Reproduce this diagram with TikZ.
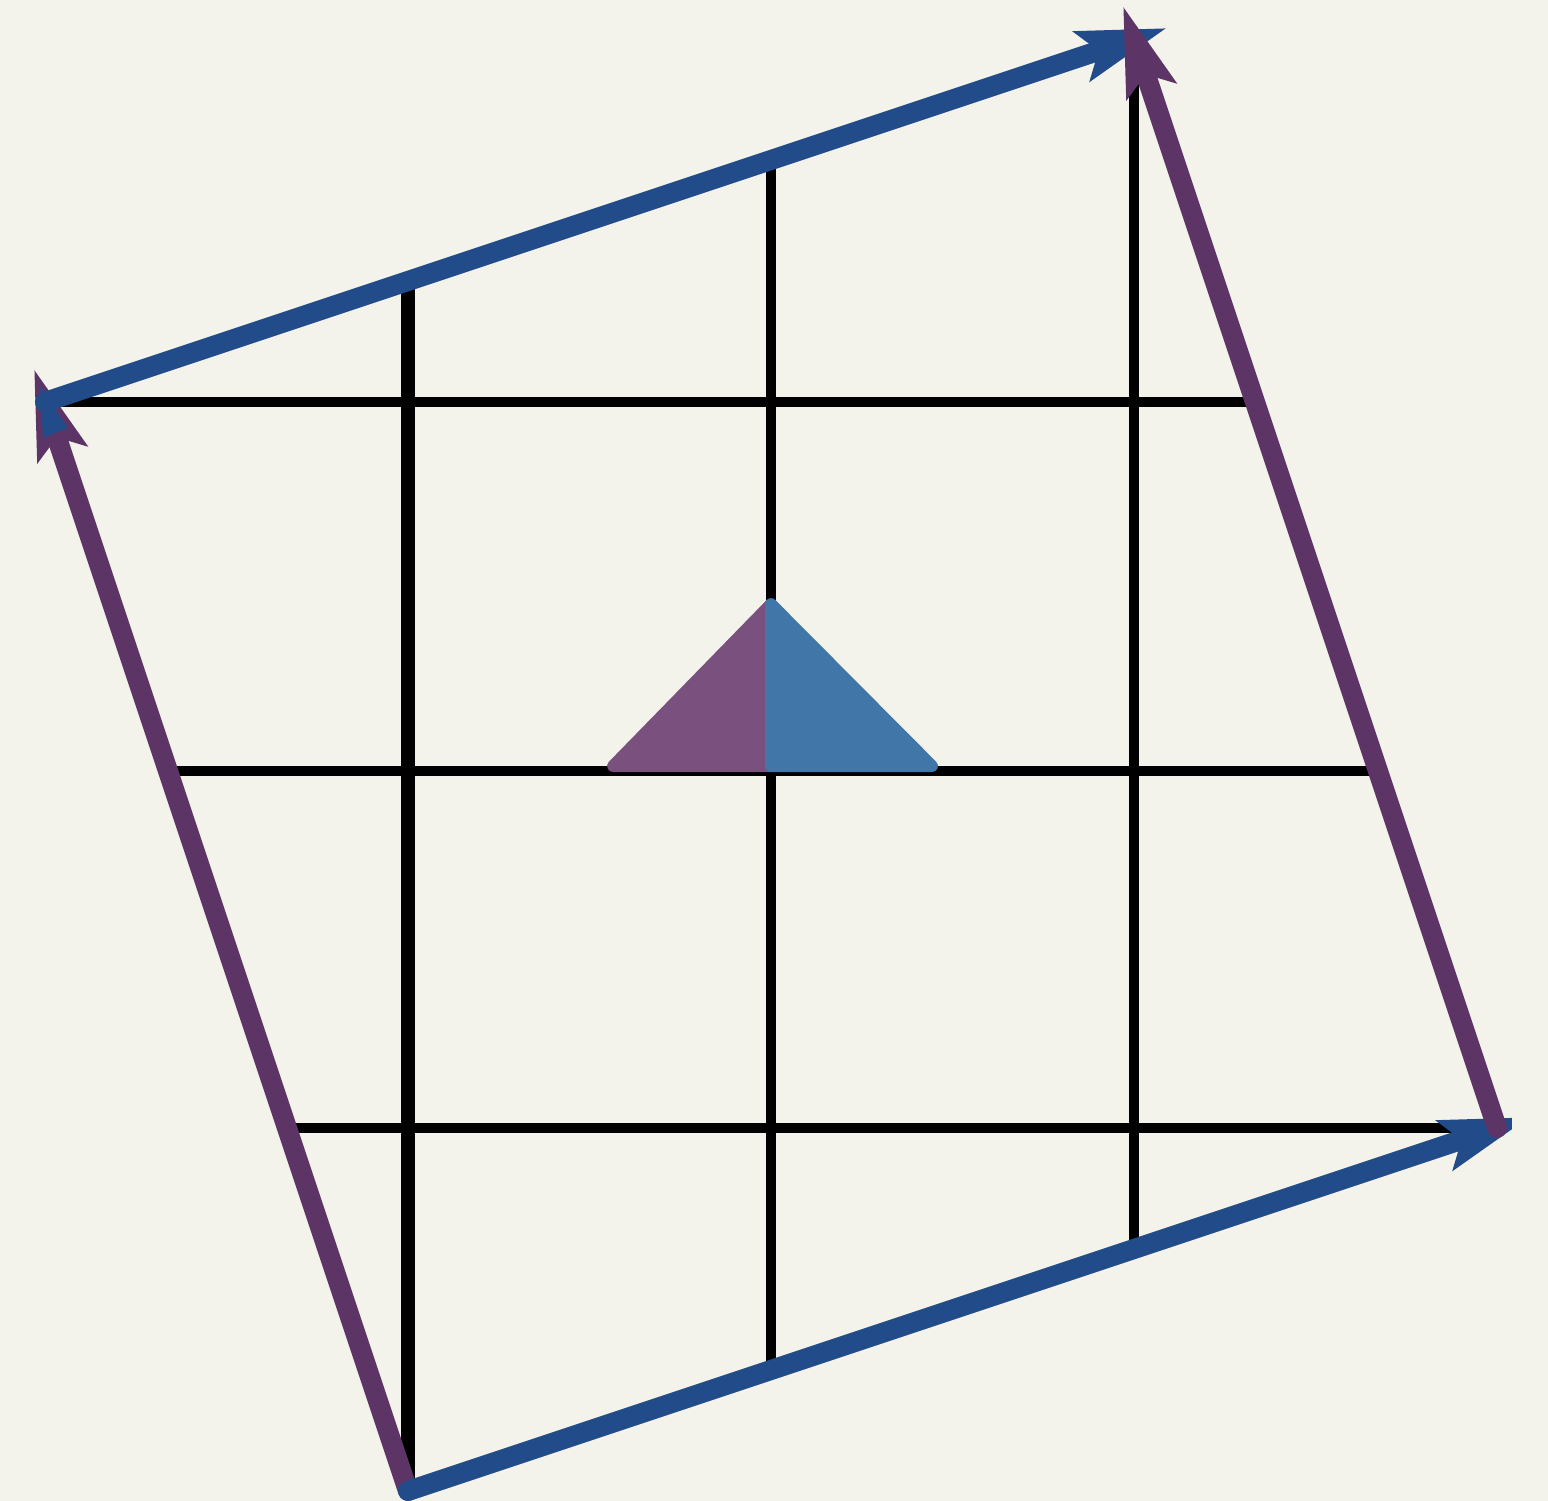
\documentclass[tikz,border=0pt]{standalone}
\usetikzlibrary{arrows.meta}
\definecolor{bg}{HTML}{F3F3EB}
\definecolor{vblue}{HTML}{224B8A}
\definecolor{vpurple}{HTML}{5C3566}
\definecolor{tpurple}{HTML}{7A507E}
\definecolor{tblue}{HTML}{4076A8}
\begin{document}
\begin{tikzpicture}[x=181.5pt,y=181.5pt,
  gridline/.style={black,line width=5pt},
  axisline/.style={black,line width=7pt},
  vecblue/.style={vblue,line width=10pt,line cap=round,-{Stealth[length=44pt,width=25pt,inset=8pt]}},
  vecpurple/.style={vpurple,line width=10pt,line cap=round,-{Stealth[length=44pt,width=25pt,inset=8pt]}},
  halftri/.style={line width=6pt,line join=round}]
\fill[bg] (-1.124,-0.02755) rectangle (3.1405,4.1074);
\useasboundingbox (-1.124,-0.02755) rectangle (3.1405,4.1074);
\coordinate (O) at (0,0);
\coordinate (A) at (3,1);
\coordinate (B) at (-1,3);
\coordinate (C) at (2,4);
\coordinate (Atip) at (3.0915,1.0305);
\coordinate (Btip) at (-1.0305,3.0915);
\coordinate (CtipBlue) at (2.0915,4.0305);
\coordinate (CtipPurple) at (1.9695,4.0915);
% transformed grid
\begin{scope}
  \clip (O) -- (A) -- (C) -- (B) -- cycle;
  \foreach \x in {1,2} \draw[gridline] (\x,0) -- (\x,4.2);
  \draw[axisline] (0,0) -- (0,4.2);
  \foreach \y in {1,1.9835,3} \draw[gridline] (-1.2,\y) -- (3.2,\y);
\end{scope}
% triangle
\filldraw[tpurple,halftri] (0.565,1.997) -- (1,2.443) -- (1,1.997) -- cycle;
\filldraw[tblue,halftri] (1,1.997) -- (1,2.443) -- (1.4435,1.997) -- cycle;
% vectors
\begin{scope}
  \clip (-1.2,-0.1) rectangle (3.041,4.2);
  \draw[vecpurple] (O) -- (Btip);
  \draw[vecblue] (B) -- (CtipBlue);
  \fill[vblue] (-1.0138,3.0413) -- (-0.9366,2.9284) -- (-1.0055,2.9008) -- cycle;
  \draw[vecblue] (O) -- (Atip);
  \draw[vecpurple] (A) -- (CtipPurple);
\end{scope}
\end{tikzpicture}
\end{document}
